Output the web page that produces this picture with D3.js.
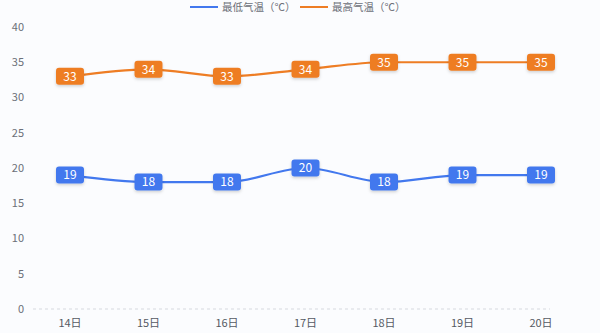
<!DOCTYPE html>
<html>
<head>
<meta charset="utf-8">
<script src="https://cdn.jsdelivr.net/npm/d3@7"></script>
<style>
  body { margin: 0; background: #fbfcfe; }
  svg { font-family: "Noto Sans CJK SC", "Noto Sans", sans-serif; }
</style>
</head>
<body>
<svg id="chart" width="600" height="333"></svg>
<script>
const days = ["14日", "15日", "16日", "17日", "18日", "19日", "20日"];
const lowTemps = [19, 18, 18, 20, 18, 19, 19];
const highTemps = [33, 34, 33, 34, 35, 35, 35];
const yTicks = [0, 5, 10, 15, 20, 25, 30, 35, 40];

const series = [
  { name: "最低气温（℃）", values: lowTemps, color: "#4278ee" },
  { name: "最高气温（℃）", values: highTemps, color: "#ee7d24" }
];

const svg = d3.select("#chart");

const x = d3.scalePoint()
  .domain(days)
  .range([70, 541]);

const y = d3.scaleLinear()
  .domain([0, 40])
  .range([309, 27]);

// y axis labels, no line
svg.append("g")
  .selectAll("text")
  .data(yTicks)
  .enter()
  .append("text")
  .attr("x", 24)
  .attr("y", d => y(d))
  .attr("dy", "0.35em")
  .attr("text-anchor", "end")
  .attr("font-size", 11)
  .attr("fill", "#6b6f78")
  .text(d => d);

// dashed baseline
svg.append("line")
  .attr("x1", 33).attr("x2", 550)
  .attr("y1", y(0)).attr("y2", y(0))
  .attr("stroke", "#d6d9df")
  .attr("stroke-dasharray", "3,3");

// x axis labels
svg.append("g")
  .selectAll("text")
  .data(days)
  .enter()
  .append("text")
  .attr("x", d => x(d))
  .attr("y", 323)
  .attr("dy", "0.35em")
  .attr("text-anchor", "middle")
  .attr("font-size", 11)
  .attr("fill", "#555a63")
  .text(d => d);

const defs = svg.append("defs");
defs.append("filter")
  .attr("id", "shadow")
  .attr("x", "-30%").attr("y", "-30%")
  .attr("width", "160%").attr("height", "180%")
  .append("feDropShadow")
  .attr("dx", 0).attr("dy", 1.5)
  .attr("stdDeviation", 1.5)
  .attr("flood-color", "#000")
  .attr("flood-opacity", 0.18);

const line = d3.line()
  .x((d, i) => x(days[i]))
  .y(d => y(d))
  .curve(d3.curveMonotoneX);

series.forEach(s => {
  svg.append("path")
    .datum(s.values)
    .attr("d", line)
    .attr("fill", "none")
    .attr("stroke", s.color)
    .attr("stroke-width", 2.2);

  const lbl = svg.append("g")
    .selectAll("g")
    .data(s.values)
    .enter()
    .append("g")
    .attr("transform", (d, i) => `translate(${x(days[i])},${y(d)})`);

  lbl.append("rect")
    .attr("x", -14).attr("y", -8.5)
    .attr("width", 28).attr("height", 17)
    .attr("rx", 3)
    .attr("fill", s.color)
    .attr("filter", "url(#shadow)");

  lbl.append("text")
    .attr("dy", "0.36em")
    .attr("text-anchor", "middle")
    .attr("font-size", 12)
    .attr("fill", "#fff")
    .text(d => d);
});

// legend
const legend = svg.append("g");
const legendX = [190, 300];
series.forEach((s, i) => {
  legend.append("line")
    .attr("x1", legendX[i]).attr("x2", legendX[i] + 28)
    .attr("y1", 7).attr("y2", 7)
    .attr("stroke", s.color)
    .attr("stroke-width", 2);
  legend.append("text")
    .attr("x", legendX[i] + 32)
    .attr("y", 11)
    .attr("font-size", 10.5)
    .attr("fill", "#6b6f78")
    .text(s.name);
});
</script>
</body>
</html>
